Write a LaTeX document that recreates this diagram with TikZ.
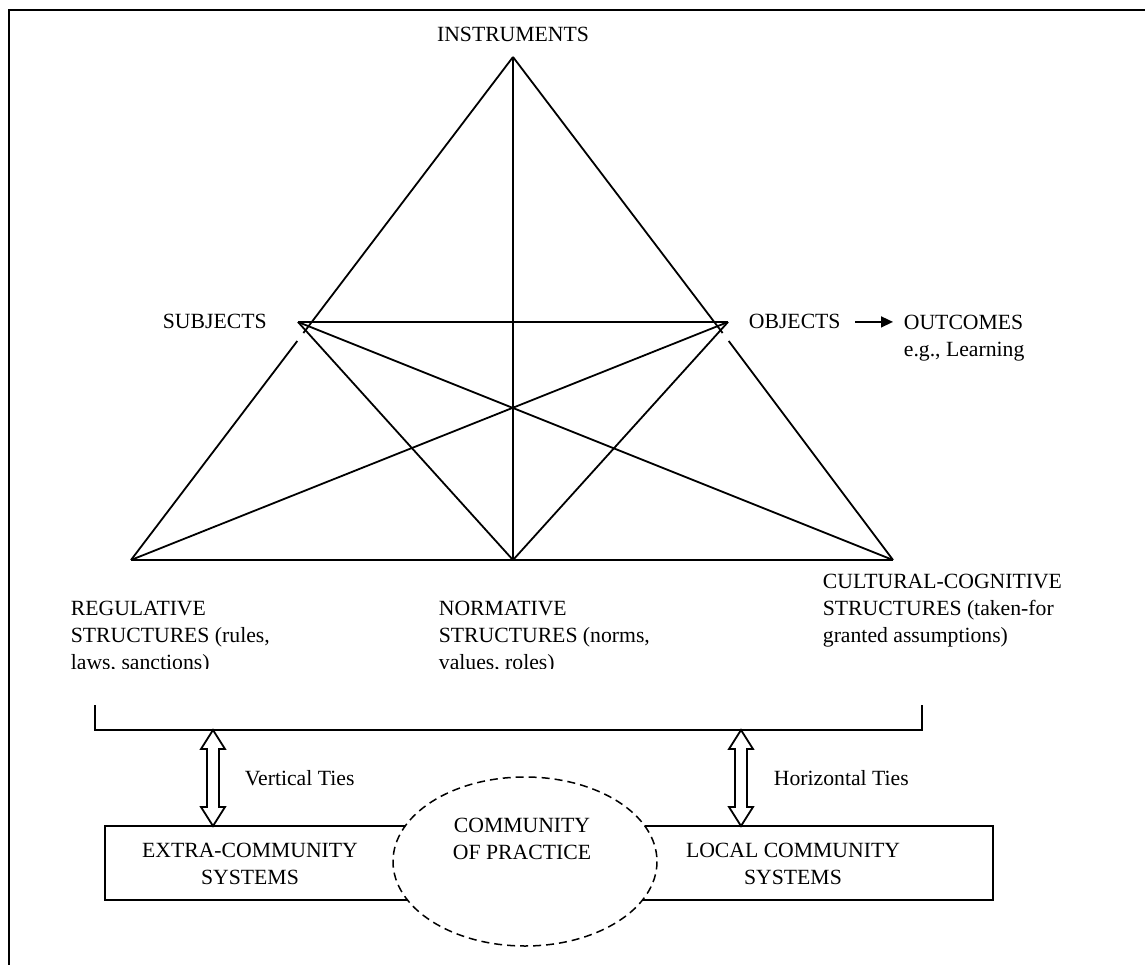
\documentclass[tikz,border=0pt]{standalone}
\usepackage{fontspec}
\setmainfont{Liberation Serif}
\usetikzlibrary{arrows.meta}
\begin{document}
\begin{tikzpicture}[x=1pt,y=-1pt,line width=1.8pt,
  lbl/.style={font=\fontsize{21.7}{27}\selectfont, inner sep=0pt},
  ml/.style={lbl, align=left, anchor=north west},
  mc/.style={lbl, align=center, anchor=north},
  dblarrow/.style={draw, fill=white, line width=1.8pt, line join=miter},
  frame/.style={line width=1.5pt}]
\useasboundingbox (0,0) rectangle (1145,965);
% frame
\draw[frame] (9,965) -- (9,10) -- (1145,10);
% vertices
\coordinate (A) at (513,57);
\coordinate (BL) at (131,560);
\coordinate (BM) at (513,560);
\coordinate (BR) at (893,560);
\coordinate (S) at (298,322);
\coordinate (O) at (728,322);
\coordinate (Lg1) at (303.4,333);
\coordinate (Lg2) at (297.3,341);
\coordinate (Rg1) at (722.6,333);
\coordinate (Rg2) at (728.7,341);
% outer triangle
\draw (A) -- (Lg1);
\draw (Lg2) -- (BL);
\draw (A) -- (Rg1);
\draw (Rg2) -- (BR);
\draw (BL) -- (BR);
% inner lines
\draw (A) -- (BM);
\draw (S) -- (O);
\draw (S) -- (BM);
\draw (S) -- (BR);
\draw (O) -- (BM);
\draw (O) -- (BL);
% labels
\node[lbl, anchor=base] (instr) at (513,42) {INSTRUMENTS};
\node[lbl, anchor=base west] (subj) at (162,329) {SUBJECTS};
\node[lbl, anchor=base west] (obj) at (748,329) {OBJECTS};
\node[ml] (outc) at (903,314.3) {OUTCOMES\\e.g., Learning};
\draw[line width=1.5pt, -{Triangle[length=12pt,width=11pt]}] ([xshift=14pt]obj.east) -- ([xshift=-10pt]obj.east -| outc.west);
\begin{scope}
\clip (0,0) rectangle (800,668);
\node[ml] (reg) at (70,600.3) {REGULATIVE\\STRUCTURES (rules,\\laws, sanctions)};
\node[ml] (norm) at (438,600.3) {NORMATIVE\\STRUCTURES (norms,\\values, roles)};
\end{scope}
\node[ml] (cult) at (822,573.3) {CULTURAL-COGNITIVE\\STRUCTURES (taken-for\\granted assumptions)};
% bracket
\coordinate (bl) at (95,705);
\coordinate (br) at (922,705);
\draw (bl) -- (95,730) -- (922,730) -- (br);
% system box
\node[draw, line width=1.8pt, minimum width=888pt, minimum height=74pt, inner sep=0pt] (sys) at (549,863) {};
% double arrows
\coordinate (vt) at (213,730);
\coordinate (ht) at (741,730);
\draw[dblarrow] (vt) -- ++(12,19) -- ++(-6,0) -- ++(0,58) -- ++(6,0) -- ++(-12,19) -- ++(-12,-19) -- ++(6,0) -- ++(0,-58) -- ++(-6,0) -- cycle;
\draw[dblarrow] (ht) -- ++(12,19) -- ++(-6,0) -- ++(0,58) -- ++(6,0) -- ++(-12,19) -- ++(-12,-19) -- ++(6,0) -- ++(0,-58) -- ++(-6,0) -- cycle;
\node[lbl, anchor=base west] (vties) at (244,785) {Vertical Ties};
\node[lbl, anchor=base west] (hties) at (773,785) {Horizontal Ties};
% community of practice
\draw[dash pattern=on 8pt off 5pt, fill=white, line width=1.5pt] (525,861.5) ellipse [x radius=132, y radius=84.5];
\node[mc] (cop) at (522,817.3) {COMMUNITY\\OF PRACTICE};
\node[mc] (extra) at (250,842.3) {EXTRA-COMMUNITY\\SYSTEMS};
\node[mc] (local) at (793,842.3) {LOCAL COMMUNITY\\SYSTEMS};
\end{tikzpicture}
\end{document}
